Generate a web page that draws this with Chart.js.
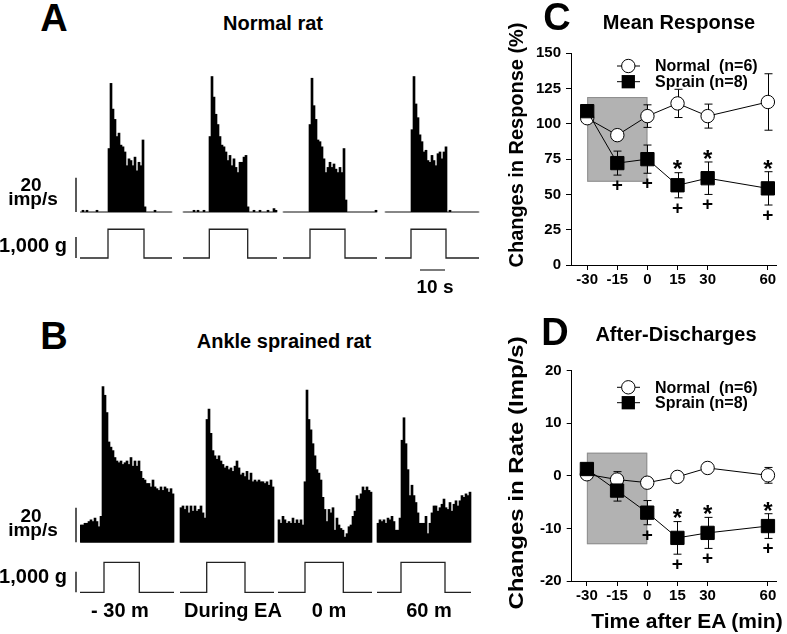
<!DOCTYPE html>
<html><head><meta charset="utf-8">
<script src="https://cdn.jsdelivr.net/npm/chart.js"></script>
<style>
html,body{margin:0;padding:0;background:#fff;}
body{width:787px;height:634px;position:relative;overflow:hidden;font-family:"Liberation Sans",Arial,sans-serif;font-weight:bold;color:#000;}
canvas{position:absolute;}
.t{position:absolute;white-space:pre;line-height:1;transform:translate(-50%,-50%);}
</style></head><body>
<canvas id="rowA"></canvas>
<canvas id="rowB"></canvas>
<canvas id="chartC"></canvas>
<canvas id="chartD"></canvas>
<script>
// ---------- DATA ----------
// Panels A/B: peri-stimulus rate histograms (imp/s per bin, bin = 0.8 s), 4 trials each
const histA1 = [0,1,0,1,0,0,0,0,1,0,0,0,0,0,37,75,60,54,44,46,39,38,35,27,31,30,27,32,24,29,27,42,3,0,0,0,0,1,0,0,0,0,0,0,0,0];
const histA2 = [0,0,0,0,0,1,0,1,0,0,1,0,0,44,79,67,57,51,44,39,38,35,30,33,27,31,26,23,29,29,32,33,3,0,0,1,0,0,1,0,0,0,1,0,0,2,1];
const histA3 = [0,0,0,0,0,0,0,0,0,0,0,0,0,51,78,62,54,42,41,38,31,23,26,29,26,28,25,23,26,23,37,7,0,0,0,0,0,0,0,0,0,0,0,0,0,0,1];
const histA4 = [0,0,0,0,0,0,0,0,0,0,0,0,0,48,79,63,55,45,41,35,36,30,29,33,30,27,34,35,31,35,38,0,1,0,0,0,0,0,0,0,0,0,0,0,0,0,0];
const histB1 = [10,10,11,11,12,13,12,14,12,9,15,90,85,75,58,55,53,49,47,46,47,45,46,47,45,49,44,47,44,47,41,37,36,34,34,32,36,32,31,30,32,30,32,31,29,31,28];
const histB2 = [20,21,19,21,17,21,18,21,18,19,21,17,14,71,77,63,53,50,48,50,47,45,43,44,42,43,41,44,47,43,39,40,38,41,36,40,35,36,35,36,35,35,34,35,33,36,32];
const histB3 = [13,11,15,13,11,12,11,14,11,13,11,13,10,35,88,71,65,57,50,42,40,36,26,19,12,19,17,20,7,14,10,8,7,3,5,9,10,15,18,27,25,28,32,30,32,30,29];
const histB4 = [11,13,12,13,11,14,13,15,12,7,7,14,59,72,57,42,27,33,27,23,17,11,11,11,15,5,11,17,21,21,18,20,22,25,20,19,23,18,22,24,21,24,27,26,28,27,29];
// stimulus on/off time in bins from trial start, and plateau force (g)
const stimOnA = [14, 13.15, 13.5, 13];
const stimOffA = [32, 32.35, 31, 30.5];
const stimOnB = [12, 13.35, 13.5, 12];
const stimOffB = [29.65, 32.5, 32.65, 34];
const stimForceA = 1370;
const stimForceB = 1450;
const binSec = 0.8;
const trialLabelsB = ['- 30 m', 'During EA', '0 m', '60 m'];
// Panels C/D
const timeX = [-30, -15, 0, 15, 30, 60];
const xTickLabels = ['-30', '-15', '0', '15', '30', '60'];
const normalC = [104, 92, 105.5, 114.5, 105.5, 115.5];
const normalCErr = [2, 3, 8, 10, 8.5, 20];
const sprainC = [109, 72.2, 75, 56.5, 61.5, 54.3];
const sprainCErr = [2, 8.5, 10, 8.9, 11.5, 11.8];
const astC = [0, 0, 0, 1, 1, 1];
const plusC = [0, 1, 1, 1, 1, 1];
const normalD = [0.3, -0.7, -1.3, -0.2, 1.5, 0.1];
const normalDErr = [0.5, 1.5, 0.8, 0.5, 0.5, 1.5];
const sprainD = [1.3, -2.8, -7.0, -11.8, -10.85, -9.55];
const sprainDErr = [0.5, 2.0, 2.3, 3.1, 2.95, 2.35];
const astD = [0, 0, 0, 1, 1, 1];
const plusD = [0, 0, 1, 1, 1, 1];
const eaWindow = [-30, 0];
const eaBoxC = [59, 119];
const eaBoxD = [-13, 4.4];
const legendNames = ['Normal  (n=6)', 'Sprain (n=8)'];

// ---------- LAYOUT ----------
const FONT = '"Liberation Sans", Arial, sans-serif';
const LAYOUT = {
  rowA: {top: 50, bottom: 300, left: 80, right: 480, canvasW: 490, histBase: 212, histPx20: 34.3, stimBase: 258, stimPx1000: 21, seg: [0, 51.5, 101.5, 152.5], timeBar: {start: 170, y: 270}},
  rowB: {top: 360, bottom: 600, left: 80, right: 480, canvasW: 490, histBase: 542.3, histPx20: 34.6, stimBase: 592.3, stimPx1000: 20.6, seg: [0, 50, 99, 148.5]},
  C: {left: 500, top: 0, width: 287, height: 300, areaLeft: 571, areaRight: 783, areaTop: 53.3, areaBottom: 265, xMin: -38.07, xMax: 64.35, legend: {x0: 617, x1: 640, xm: 628.3, tx: 655, y: [66, 81.7]}},
  D: {left: 500, top: 310, width: 287, height: 324, areaLeft: 571.7, areaRight: 783, areaTop: 370.7, areaBottom: 581, xMin: -37.55, xMax: 64.3, legend: {x0: 617, x1: 640, xm: 628.3, tx: 655, y: [387.3, 402.7]}}
};

// ---------- ROWS A / B ----------
const scaleBarPlugin = {
  id: 'scaleBars',
  afterDatasetsDraw(chart, args, opts) {
    const ctx = chart.ctx, a = chart.chartArea;
    const yH = chart.scales.yH, yS = chart.scales.yS, x = chart.scales.x;
    ctx.save();
    ctx.strokeStyle = '#000'; ctx.lineWidth = 1.3;
    const bx = a.left - 4;
    ctx.beginPath(); ctx.moveTo(bx, yH.getPixelForValue(0)); ctx.lineTo(bx, yH.getPixelForValue(20)); ctx.stroke();
    ctx.beginPath(); ctx.moveTo(bx, yS.getPixelForValue(0)); ctx.lineTo(bx, yS.getPixelForValue(1000)); ctx.stroke();
    if (opts.timeBar) {
      const tb = opts.timeBar;
      ctx.strokeStyle = '#333';
      ctx.beginPath(); ctx.moveTo(x.getPixelForValue(tb.start), tb.y); ctx.lineTo(x.getPixelForValue(tb.start + 10 / binSec), tb.y); ctx.stroke();
    }
    ctx.restore();
  }
};

function mkRow(id, hists, on, off, force, L) {
  const cv = document.getElementById(id);
  cv.width = L.canvasW; cv.height = L.bottom - L.top;
  cv.style.left = '0px'; cv.style.top = L.top + 'px';
  const bars = [], base = [], stim = [];
  hists.forEach((h, k) => {
    const s = L.seg[k], e = s + h.length;
    h.forEach((v, i) => bars.push({x: s + i + 0.5, y: v}));
    base.push({x: s, y: 0}, {x: e, y: 0}, {x: e, y: null});
    stim.push({x: s, y: 0}, {x: s + on[k], y: 0}, {x: s + on[k], y: force}, {x: s + off[k], y: force},
              {x: s + off[k], y: 0}, {x: e, y: 0}, {x: e, y: null});
  });
  const hPx = L.histPx20 / 20, sPx = L.stimPx1000 / 1000;
  new Chart(cv, {
    type: 'bar',
    data: {datasets: [
      {type: 'bar', data: bars, backgroundColor: '#000', borderWidth: 0, yAxisID: 'yH', categoryPercentage: 1, barPercentage: 1},
      {type: 'line', data: base, borderColor: '#c4c4c4', borderWidth: 1, pointRadius: 0, yAxisID: 'yH', spanGaps: false},
      {type: 'line', data: stim, borderColor: '#222', borderWidth: 1.3, pointRadius: 0, yAxisID: 'yS', spanGaps: false}
    ]},
    options: {
      responsive: false, animation: false, devicePixelRatio: 1,
      layout: {padding: {left: L.left, right: L.canvasW - L.right, top: 0, bottom: 0}},
      plugins: {legend: {display: false}, tooltip: {enabled: false},
        scaleBars: {timeBar: L.timeBar ? {start: L.timeBar.start, y: L.timeBar.y - L.top} : null}},
      scales: {
        x: {type: 'linear', display: false, min: 0, max: (L.right - L.left) / 2, offset: false},
        yH: {type: 'linear', display: false, min: -(L.bottom - L.histBase) / hPx, max: (L.histBase - L.top) / hPx},
        yS: {type: 'linear', display: false, min: -(L.bottom - L.stimBase) / sPx, max: (L.stimBase - L.top) / sPx}
      }
    },
    plugins: [scaleBarPlugin]
  });
}
mkRow('rowA', [histA1, histA2, histA3, histA4], stimOnA, stimOffA, stimForceA, LAYOUT.rowA);
mkRow('rowB', [histB1, histB2, histB3, histB4], stimOnB, stimOffB, stimForceB, LAYOUT.rowB);

// ---------- PANELS C / D ----------
const meanPlugin = {
  id: 'meanDeco',
  beforeDatasetsDraw(chart, args, o) {
    const ctx = chart.ctx, x = chart.scales.x, y = chart.scales.y;
    ctx.save();
    const x0 = x.getPixelForValue(eaWindow[0]), x1 = x.getPixelForValue(eaWindow[1]);
    const y0 = y.getPixelForValue(o.box[1]), y1 = y.getPixelForValue(o.box[0]);
    ctx.fillStyle = '#b2b2b2'; ctx.fillRect(x0, y0, x1 - x0, y1 - y0);
    ctx.strokeStyle = '#8e8e8e'; ctx.lineWidth = 1; ctx.strokeRect(x0 + 0.5, y0 + 0.5, x1 - x0 - 1, y1 - y0 - 1);
    ctx.strokeStyle = '#000'; ctx.lineWidth = 1;
    chart.data.datasets.forEach(ds => {
      ds.data.forEach((p, i) => {
        const px = Math.round(x.getPixelForValue(p.x)) + 0.5;
        const yu = y.getPixelForValue(p.y + ds.err[i]), yl = y.getPixelForValue(p.y - ds.err[i]);
        ctx.beginPath(); ctx.moveTo(px, yu); ctx.lineTo(px, yl);
        ctx.moveTo(px - 4, yu); ctx.lineTo(px + 4, yu);
        ctx.moveTo(px - 4, yl); ctx.lineTo(px + 4, yl);
        ctx.stroke();
      });
    });
    ctx.restore();
  },
  afterDatasetsDraw(chart, args, o) {
    const ctx = chart.ctx, x = chart.scales.x, y = chart.scales.y;
    const ds = chart.data.datasets[0];
    ctx.save();
    ctx.fillStyle = '#000'; ctx.textAlign = 'center'; ctx.textBaseline = 'alphabetic';
    const fa = 24, fp = 19;
    ds.data.forEach((p, i) => {
      const px = x.getPixelForValue(p.x);
      const yu = y.getPixelForValue(p.y + ds.err[i]), yl = y.getPixelForValue(p.y - ds.err[i]);
      if (o.ast[i]) { ctx.font = 'bold ' + fa + 'px ' + FONT; ctx.fillText('*', px, yu - 9 + 0.575 * fa); }
      if (o.plus[i]) { ctx.font = 'bold ' + fp + 'px ' + FONT; ctx.fillText('+', px, yl + 9 + 0.36 * fp); }
    });
    ctx.restore();
  },
  afterDraw(chart, args, o) {
    const ctx = chart.ctx, L = o.L, lg = L.legend;
    ctx.save();
    const order = [chart.data.datasets[1], chart.data.datasets[0]];
    order.forEach((ds, k) => {
      const yy = lg.y[k] - L.top;
      ctx.strokeStyle = '#000'; ctx.lineWidth = 1;
      ctx.beginPath(); ctx.moveTo(lg.x0 - L.left, yy); ctx.lineTo(lg.x1 - L.left, yy); ctx.stroke();
      const cx = lg.xm - L.left;
      ctx.fillStyle = ds.pointBackgroundColor;
      if (ds.pointStyle === 'circle') {
        ctx.beginPath(); ctx.arc(cx, yy, ds.pointRadius, 0, Math.PI * 2); ctx.fill(); ctx.stroke();
      } else {
        const h = ds.pointRadius * Math.SQRT1_2;
        ctx.fillRect(cx - h, yy - h, 2 * h, 2 * h);
      }
      ctx.fillStyle = '#000'; ctx.font = 'bold 16px ' + FONT; ctx.textAlign = 'left'; ctx.textBaseline = 'middle';
      ctx.fillText(legendNames[k], lg.tx - L.left, yy + 1);
    });
    ctx.restore();
  }
};

function mkMean(id, L, normal, nErr, sprain, sErr, ast, plus, box, yMin, yMax, yStep) {
  const cv = document.getElementById(id);
  cv.width = L.width; cv.height = L.height;
  cv.style.left = L.left + 'px'; cv.style.top = L.top + 'px';
  const tickFont = {family: FONT, size: 15, weight: 'bold'};
  new Chart(cv, {
    type: 'line',
    data: {datasets: [
      {label: legendNames[1], data: timeX.map((t, i) => ({x: t, y: sprain[i]})), err: sErr,
       borderColor: '#000', borderWidth: 1, pointStyle: 'rect', pointRadius: 9.4, pointBackgroundColor: '#000',
       pointBorderColor: '#000', pointBorderWidth: 1},
      {label: legendNames[0], data: timeX.map((t, i) => ({x: t, y: normal[i]})), err: nErr,
       borderColor: '#000', borderWidth: 1, pointStyle: 'circle', pointRadius: 6.7, pointBackgroundColor: '#fff',
       pointBorderColor: '#000', pointBorderWidth: 1}
    ]},
    options: {
      responsive: false, animation: false, devicePixelRatio: 1,
      layout: {padding: {top: L.areaTop - L.top, right: L.left + L.width - L.areaRight, left: 0, bottom: 0}},
      plugins: {legend: {display: false}, tooltip: {enabled: false}, meanDeco: {box, ast, plus, L}},
      scales: {
        x: {type: 'linear', min: L.xMin, max: L.xMax,
            afterBuildTicks: s => { s.ticks = timeX.map(v => ({value: v})); },
            ticks: {font: tickFont, color: '#000', padding: 1, autoSkip: false, maxRotation: 0,
                    callback: (v) => xTickLabels[timeX.indexOf(v)]},
            grid: {display: true, drawOnChartArea: false, drawTicks: true, tickLength: 5, color: '#000'},
            border: {display: true, color: '#000', width: 1},
            afterFit: s => { s.height = L.top + L.height - L.areaBottom; }},
        y: {type: 'linear', min: yMin, max: yMax,
            ticks: {stepSize: yStep, font: tickFont, color: '#000', padding: 5},
            grid: {display: true, drawOnChartArea: false, drawTicks: true, tickLength: 5, color: '#000'},
            border: {display: true, color: '#000', width: 1},
            afterFit: s => { s.width = L.areaLeft - L.left; }}
      }
    },
    plugins: [meanPlugin]
  });
}
mkMean('chartC', LAYOUT.C, normalC, normalCErr, sprainC, sprainCErr, astC, plusC, eaBoxC, 0, 150, 25);
mkMean('chartD', LAYOUT.D, normalD, normalDErr, sprainD, sprainDErr, astD, plusD, eaBoxD, -20, 20, 10);

// ---------- TEXT ----------
function addText(txt, x, y, size, extra) {
  const d = document.createElement('div');
  d.className = 't'; d.textContent = txt;
  d.style.left = x + 'px'; d.style.top = y + 'px'; d.style.fontSize = size + 'px';
  if (extra) extra(d);
  document.body.appendChild(d);
  return d;
}
addText('A', 54, 17.5, 38);
addText('Normal rat', 273, 22.5, 20);
addText('B', 54, 336, 38);
addText('Ankle sprained rat', 284, 341, 20);
addText('C', 557, 16.7, 38);
addText('Mean Response', 679, 22, 20);
addText('D', 555, 331.7, 38);
addText('After-Discharges', 676, 334, 20);
addText('Time after EA (min)', 687, 620, 21);
addText('20', 31, 183.5, 19);
addText('imp/s', 33, 198, 19);
addText('20', 31, 515, 19);
addText('imp/s', 33, 529, 19);
addText('10 s', 435, 286, 19);
addText('1,000 g', 33, 245, 20);
addText('1,000 g', 33, 576, 20);
const labX = [120, 233, 329, 429];
trialLabelsB.forEach((t, i) => addText(t, labX[i], 610, 20));
function yTitle(txt, x, y, len) {
  const d = addText(txt, x, y, 21);
  const k = len / d.offsetWidth;
  d.style.transform = 'translate(-50%,-50%) rotate(-90deg) scaleX(' + k + ')';
}
yTitle('Changes in Response (%)', 515, 144.5, 245);
yTitle('Changes in Rate (Imp/s)', 515, 473, 273);
</script>
</body></html>
